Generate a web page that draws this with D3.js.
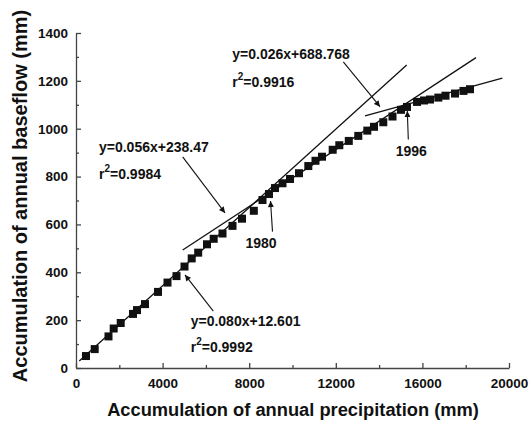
<!DOCTYPE html>
<html>
<head>
<meta charset="utf-8">
<script src="https://cdn.jsdelivr.net/npm/d3@7"></script>
<style>
    body { margin: 0; background: #fff; }
    text { font-family: "Liberation Sans", Arial, sans-serif; font-weight: bold; fill: #111; }
    .axis path, .axis line { stroke: #444; stroke-width: 1.3; }
    .axis text { font-size: 13.5px; }
</style>
</head>
<body>
<div class="chart"></div>
<script>
// cumulative annual precipitation vs cumulative annual baseflow (mm)
var precipitation = [462, 864, 1501, 1741, 2065, 2633, 2818, 3187, 3788, 4226, 4642, 5012, 5344, 5644,
    6051, 6360, 6767, 7229, 7667, 8213, 8614, 8915, 9192, 9538, 9885, 10300, 10730, 11062, 11362,
    11857, 12162, 12600, 13039, 13455, 13765, 14194, 14619, 15012, 15289, 15751, 16074, 16351,
    16735, 17067, 17506, 17898, 18199];
var baseflow = [50, 79, 132, 165, 188, 226, 242, 267, 318, 357, 384, 424, 458, 482,
    517, 540, 562, 594, 624, 657, 702, 727, 752, 772, 790, 814, 844, 866, 883,
    912, 931, 949, 970, 992, 1008, 1027, 1051, 1079, 1091, 1112, 1118, 1122,
    1130, 1138, 1147, 1158, 1165];

// fitted lines, as drawn (start and end points)
var fitLines = [
    [[152, 29], [15275, 1266]],
    [[4928, 493], [18476, 1297]],
    [[13349, 1054], [19692, 1211]]
];

var xTicks = [0, 4000, 8000, 12000, 16000, 20000],
    xMinor = [2000, 6000, 10000, 14000, 18000],
    yTicks = [0, 200, 400, 600, 800, 1000, 1200, 1400],
    yMinor = [100, 300, 500, 700, 900, 1100, 1300];

// equation labels: text, r2 value, text position, arrow start, arrow tip
var equations = [
    {eq: "y=0.026x+688.768", r2: "=0.9916", at: [7220, 1290], r2y: 1176, from: [12347, 1279], to: [14042, 1092]},
    {eq: "y=0.056x+238.47", r2: "=0.9984", at: [1062, 904], r2y: 790, from: [4928, 882], to: [6882, 648]},
    {eq: "y=0.080x+12.601", r2: "=0.9992", at: [5298, 176], r2y: 65, from: [6342, 238], to: [5035, 389]}
];
var years = [
    {label: "1980", at: [8545, 501], from: [9076, 570], to: [8984, 698]},
    {label: "1996", at: [15488, 886], from: [15349, 955], to: [15303, 1074]}
];

var width = 529, height = 421;

var x = d3.scaleLinear().domain([0, 20000]).range([76, 509]);
var y = d3.scaleLinear().domain([0, 1400]).range([368, 33]);

var svg = d3.select(".chart").append("svg")
    .attr("width", width)
    .attr("height", height);

svg.append("defs").append("marker")
    .attr("id", "head")
    .attr("viewBox", "0 0 10 10")
    .attr("refX", 10).attr("refY", 5)
    .attr("markerWidth", 7).attr("markerHeight", 6)
    .attr("markerUnits", "userSpaceOnUse")
    .attr("orient", "auto")
    .append("path")
    .attr("d", "M0,0L10,5L0,10z")
    .attr("fill", "#111");

// axes, ticks pointing inward
svg.append("g")
    .attr("class", "x axis")
    .attr("transform", "translate(0," + y(0) + ")")
    .call(d3.axisBottom(x).tickValues(xTicks).tickFormat(d3.format("d"))
        .tickSizeInner(-5).tickSizeOuter(0).tickPadding(10));
svg.append("g")
    .attr("class", "x axis minor")
    .attr("transform", "translate(0," + y(0) + ")")
    .call(d3.axisBottom(x).tickValues(xMinor).tickFormat("").tickSize(-3))
    .select(".domain").remove();

svg.append("g")
    .attr("class", "y axis")
    .attr("transform", "translate(" + x(0) + ",0)")
    .call(d3.axisLeft(y).tickValues(yTicks).tickFormat(d3.format("d"))
        .tickSizeInner(-5).tickSizeOuter(0).tickPadding(8));
svg.append("g")
    .attr("class", "y axis minor")
    .attr("transform", "translate(" + x(0) + ",0)")
    .call(d3.axisLeft(y).tickValues(yMinor).tickFormat("").tickSize(-3))
    .select(".domain").remove();

svg.append("text")
    .attr("x", 293).attr("y", 416)
    .style("text-anchor", "middle")
    .style("font-size", "18.3px")
    .text("Accumulation of annual precipitation (mm)");

svg.append("text")
    .attr("transform", "translate(27,196) rotate(-90)")
    .style("text-anchor", "middle")
    .style("font-size", "20px")
    .text("Accumulation of annual baseflow (mm)");

var line = d3.line()
    .x(function(d) { return x(d[0]); })
    .y(function(d) { return y(d[1]); });

svg.append("g").selectAll("path")
    .data(fitLines)
    .enter().append("path")
    .attr("d", line)
    .attr("fill", "none")
    .attr("stroke", "#111")
    .attr("stroke-width", 1.3);

var pts = precipitation.map(function(p, i) { return [p, baseflow[i]]; });
svg.append("g").selectAll("rect")
    .data(pts)
    .enter().append("rect")
    .attr("x", function(d) { return x(d[0]) - 4; })
    .attr("y", function(d) { return y(d[1]) - 4; })
    .attr("width", 8)
    .attr("height", 8)
    .attr("fill", "#111");

function arrow(d) {
    svg.append("line")
        .attr("x1", x(d.from[0])).attr("y1", y(d.from[1]))
        .attr("x2", x(d.to[0])).attr("y2", y(d.to[1]))
        .attr("stroke", "#111")
        .attr("stroke-width", 1.1)
        .attr("marker-end", "url(#head)");
}

equations.forEach(function(d) {
    svg.append("text")
        .attr("x", x(d.at[0])).attr("y", y(d.at[1]))
        .style("font-size", "14px")
        .text(d.eq);
    var r = svg.append("text")
        .attr("x", x(d.at[0])).attr("y", y(d.r2y))
        .style("font-size", "14px");
    r.append("tspan").text("r");
    r.append("tspan").attr("dy", -7).style("font-size", "10px").text("2");
    r.append("tspan").attr("dy", 7).text(d.r2);
    arrow(d);
});

years.forEach(function(d) {
    svg.append("text")
        .attr("x", x(d.at[0])).attr("y", y(d.at[1]))
        .style("text-anchor", "middle")
        .style("font-size", "14px")
        .text(d.label);
    arrow(d);
});
</script>
</body>
</html>
